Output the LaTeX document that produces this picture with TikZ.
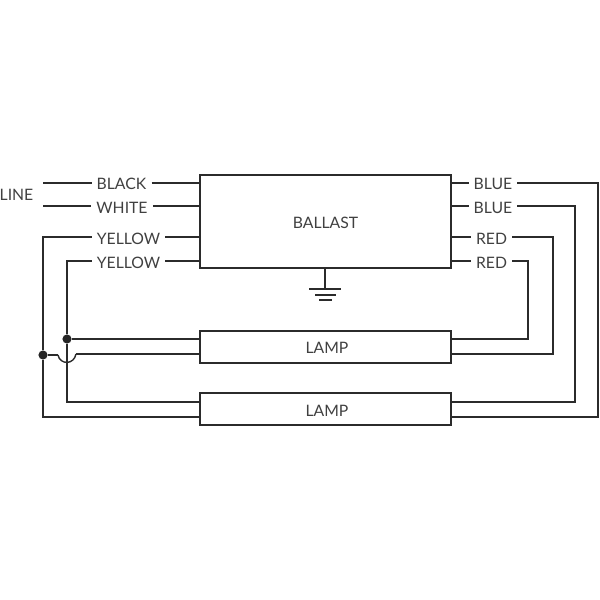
\documentclass[tikz,border=0pt]{standalone}
\usepackage{fontspec}
\setmainfont{Lato}
\definecolor{wireink}{rgb}{0.17, 0.17, 0.17}
\definecolor{labelink}{rgb}{0.25, 0.25, 0.25}
\tikzset{
  wire/.style={draw=wireink, line width=1pt},
  unitbox/.style={draw=wireink, line width=1pt, rectangle, minimum width=6.275cm, minimum height=.8cm},
  unitlabel/.style={text=labelink, font=\fontsize{11.2}{12}\selectfont},
  wirelabel/.style={text=labelink, font=\fontsize{11.2}{12}\selectfont, inner xsep=3.5pt, inner ysep=0pt},
  joint/.style={circle, fill=black!85, inner sep=0pt, minimum size=6.5pt}
}
\begin{document}
\begin{tikzpicture}[x=.025cm,y=-.025cm]

      \useasboundingbox (0,0) rectangle (600,600);

      % We want the ballast on top and the two lamps below it
      \node[unitbox, minimum height=2.325cm] (ballast) at (325.5,221.5) {};
      \node[unitbox] (lampA) at (325.5,347) {};
      \node[unitbox] (lampB) at (325.5,409) {};
      \node[unitlabel] (ballastText) at (325.5,222.5) {BALLAST};
      \node[unitlabel] (lampAText) at (327,348) {LAMP};
      \node[unitlabel] (lampBText) at (327,411) {LAMP};

      % Labels on the left
      \node[wirelabel] (line) at (16.5,195) {LINE};
      \node[wirelabel] (black) at (121.5,184) {BLACK};
      \node[wirelabel] (white) at (122,208) {WHITE};
      \node[wirelabel] (yellowA) at (128.5,239) {YELLOW};
      \node[wirelabel] (yellowB) at (128.5,262.5) {YELLOW};

      % Labels on the right
      \node[wirelabel] (blueA) at (493,184) {BLUE};
      \node[wirelabel] (blueB) at (493,208) {BLUE};
      \node[wirelabel] (redA) at (491.5,239) {RED};
      \node[wirelabel] (redB) at (491.5,262.5) {RED};

      % Heights of the wires and their corners
      \coordinate (rowBlack) at (43,183);
      \coordinate (rowWhite) at (43,206);
      \coordinate (cornerA) at (43,237);
      \coordinate (cornerB) at (67,261);
      \coordinate (hopIn) at (58,355);
      \coordinate (hopOut) at (76,354);
      \coordinate (cornerC) at (67,402);
      \coordinate (cornerD) at (43,417);
      \coordinate (cornerE) at (598,183);
      \coordinate (cornerF) at (598,417);
      \coordinate (cornerG) at (575,206);
      \coordinate (cornerH) at (575,402);
      \coordinate (cornerI) at (553,237);
      \coordinate (cornerJ) at (553,354);
      \coordinate (cornerK) at (528,261);
      \coordinate (cornerL) at (528,339);

      \node[joint] (jointA) at (43,355) {};
      \node[joint] (jointB) at (67,339) {};

      %Now draw the wires on the left
      \draw[wire] (rowBlack) -- (rowBlack -| black.west);
      \draw[wire] (rowBlack -| black.east) -- (rowBlack -| ballast.west);
      \draw[wire] (rowWhite) -- (rowWhite -| white.west);
      \draw[wire] (rowWhite -| white.east) -- (rowWhite -| ballast.west);
      \draw[wire] (cornerA -| yellowA.east) -- (cornerA -| ballast.west);
      \draw[wire] (cornerB -| yellowB.east) -- (cornerB -| ballast.west);
      \draw[wire] (cornerA -| yellowA.west) -- (cornerA) -- (jointA);
      \draw[wire] (cornerB -| yellowB.west) -- (cornerB) -- (jointB);

      %% Lamp wires, one hops over the other
      \draw[wire] (jointB) -- (jointB -| lampA.west);
      \draw[wire] (jointA) -- (hopIn);
      \draw[wire] (hopIn) .. controls (60,365) and (74,365) .. (hopOut);
      \draw[wire] (hopOut) -- (hopOut -| lampA.west);
      \draw[wire] (jointB) -- (cornerC) -- (cornerC -| lampB.west);
      \draw[wire] (jointA) -- (cornerD) -- (cornerD -| lampB.west);

      %Now draw the wires on the right
      \draw[wire] (cornerE -| ballast.east) -- (cornerE -| blueA.west);
      \draw[wire] (cornerG -| ballast.east) -- (cornerG -| blueB.west);
      \draw[wire] (cornerI -| ballast.east) -- (cornerI -| redA.west);
      \draw[wire] (cornerK -| ballast.east) -- (cornerK -| redB.west);
      \draw[wire] (cornerE -| blueA.east) -- (cornerE) -- (cornerF) -- (cornerF -| lampB.east);
      \draw[wire] (cornerG -| blueB.east) -- (cornerG) -- (cornerH) -- (cornerH -| lampB.east);
      \draw[wire] (cornerI -| redA.east) -- (cornerI) -- (cornerJ) -- (cornerJ -| lampA.east);
      \draw[wire] (cornerK -| redB.east) -- (cornerK) -- (cornerL) -- (cornerL -| lampA.east);

      % Ground
      \coordinate (groundTop) at (325,289);
      \draw[wire] (ballast.south -| groundTop) -- (groundTop);
      \draw[wire] (309,289) -- (341,289);
      \draw[wire] (315,295) -- (336,295);
      \draw[wire] (319,300) -- (332,300);

    \end{tikzpicture}
\end{document}
